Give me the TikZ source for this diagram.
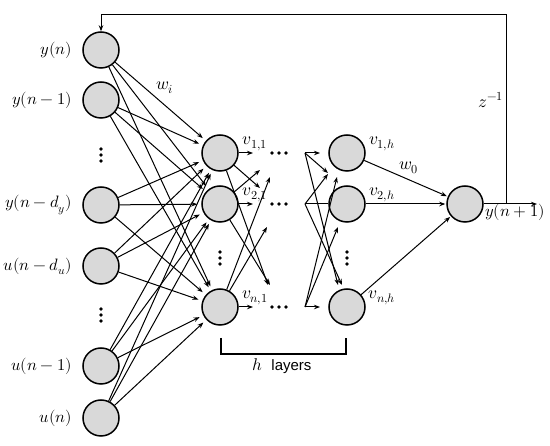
\documentclass[tikz,border=0pt]{standalone}
\usepackage{fontspec}
\usepackage{unicode-math}
\setmathfont{Latin Modern Math}
\newfontfamily\labsans{Liberation Sans}
\usetikzlibrary{arrows.meta}
\begin{document}
\begin{tikzpicture}[x=1pt,y=-1pt,
  neuron/.style={circle,draw,line width=1.5pt,fill=black!15,minimum size=36pt,inner sep=0pt},
  conn/.style={line width=1pt,-{Stealth[length=6pt,width=4.5pt]}},
  plain/.style={line width=1pt},
  inlab/.style={anchor=east,font=\fontsize{16.5}{19}\selectfont,inner sep=0pt},
  vlab/.style={font=\fontsize{17.5}{20}\selectfont,inner sep=0pt},
  dotc/.style={circle,fill=black,inner sep=0pt,minimum size=3.8pt}]
\useasboundingbox (0,0) rectangle (550,446);
% input nodes
\node[neuron] (i1) at (101,50) {};
\node[neuron] (i2) at (101,100) {};
\node[neuron] (i3) at (101,205) {};
\node[neuron] (i4) at (101,266) {};
\node[neuron] (i5) at (101,366) {};
\node[neuron] (i6) at (101,418) {};
% labels
\node[inlab] (l1) at (72,50) {$y(n)$};
\node[inlab] (l2) at (72,100) {$y(n-1)$};
\node[inlab] (l3) at (72,205) {$y(n-d_y)$};
\node[inlab] (l4) at (72,266) {$u(n-d_u)$};
\node[inlab] (l5) at (72,366) {$u(n-1)$};
\node[inlab] (l6) at (72,418) {$u(n)$};
% hidden layer 1
\node[neuron] (a1) at (220,153) {};
\node[neuron] (a2) at (220,204) {};
\node[neuron] (an) at (220,307) {};
% hidden layer h
\node[neuron] (b1) at (347,153) {};
\node[neuron] (b2) at (347,204) {};
\node[neuron] (bn) at (347,307) {};
% output
\node[neuron] (o) at (465,204) {};
% vertical dots
\foreach \x/\y/\n in {101/155/da,101/315/db,220/258/dc,347/258/dd}{
  \node[dotc] (\n1) at (\x,\y-6) {};
  \node[dotc] (\n2) at (\x,\y) {};
  \node[dotc] (\n3) at (\x,\y+6) {};
}
% horizontal dots
\foreach \y/\n in {153/ha,204/hb,307/hc}{
  \node[dotc] (\n1) at (272,\y) {};
  \node[dotc] (\n2) at (279,\y) {};
  \node[dotc] (\n3) at (286,\y) {};
}
% input -> hidden layer 1
\foreach \i in {i1,i2,i3,i4,i5,i6}{
  \foreach \h in {a1,a2,an}{
    \draw[conn,shorten >=4pt] (\i) -- (\h);
  }
}
\node[vlab] (wi) at (165,88) {$w_i$};
% layer 1 outgoing
\coordinate (e11) at (253,153);
\coordinate (e12) at (268,285);
\coordinate (e13) at (260,188);
\coordinate (e21) at (253,204);
\coordinate (e22) at (270,285);
\coordinate (e23) at (260,170);
\coordinate (en1) at (253,307);
\coordinate (en2) at (270,177);
\coordinate (en3) at (267,227);
\draw[conn] (a1) -- (e11);
\draw[conn] (a1) -- (e12);
\draw[conn] (a1) -- (e13);
\draw[conn] (a2) -- (e21);
\draw[conn] (a2) -- (e22);
\draw[conn] (a2) -- (e23);
\draw[conn] (an) -- (en1);
\draw[conn] (an) -- (en2);
\draw[conn] (an) -- (en3);
% layer h incoming fan
\coordinate (f1) at (305,153);
\coordinate (f2) at (305,204);
\coordinate (fn) at (305,307);
\coordinate (g11) at (320,153);
\coordinate (g12) at (328,173);
\coordinate (g13) at (338,285);
\coordinate (g22) at (328,174);
\coordinate (g23) at (342,285);
\coordinate (gn1) at (320,307);
\coordinate (gn2) at (337,177);
\coordinate (gn3) at (338,227);
\draw[conn] (f1) -- (g11);
\draw[conn] (f1) -- (g12);
\draw[conn] (f1) -- (g13);
\draw[plain] (f2) -- (b2);
\draw[conn] (f2) -- (g22);
\draw[conn] (f2) -- (g23);
\draw[conn] (fn) -- (gn1);
\draw[conn] (fn) -- (gn2);
\draw[conn] (fn) -- (gn3);
% labels v
\node[vlab] (v11) at (255,144) {$v_{1,1}$};
\node[vlab] (v21) at (255,195) {$v_{2,1}$};
\node[vlab] (vn1) at (255,298) {$v_{n,1}$};
\node[vlab] (v1h) at (382,144) {$v_{1,h}$};
\node[vlab] (v2h) at (382,195) {$v_{2,h}$};
\node[vlab] (vnh) at (382,298) {$v_{n,h}$};
% layer h -> output
\draw[conn,shorten >=1pt] (b1) -- (o);
\draw[conn,shorten >=1pt] (b2) -- (o);
\draw[conn,shorten >=1pt] (bn) -- (o);
\node[vlab] (w0) at (409,168) {$w_0$};
% output and feedback
\coordinate (oe) at (537,204);
\coordinate (fb) at (506,204);
\draw[conn] (o) -- (oe);
\draw[conn] (fb) -- (506,15) -| (i1);
\node[vlab] (z) at (491,100) {$z^{-1}$};
\node[inlab,anchor=center] (yo) at (515,212) {$y(n+1)$};
% bracket
\coordinate (br1) at (221,338);
\coordinate (br2) at (346,338);
\draw[line width=1.2pt] (br1) -- (221,354) -- (346,354) -- (br2);
\node[font=\fontsize{15}{17}\selectfont] (hl) at (282,366) {{\fontsize{17}{19}\selectfont$h$}\ \ \labsans layers};
\end{tikzpicture}
\end{document}
